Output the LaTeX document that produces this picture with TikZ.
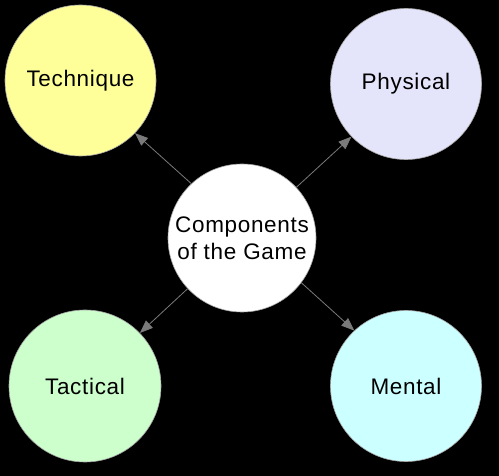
\documentclass[tikz,border=0pt]{standalone}
\usepackage{fontspec}
\setmainfont{Liberation Sans}[LetterSpace=3]
\usetikzlibrary{arrows.meta}
\definecolor{techc}{HTML}{FFFF99}
\definecolor{physc}{HTML}{E4E4FA}
\definecolor{tactc}{HTML}{CCFFCC}
\definecolor{mentc}{HTML}{CCFFFF}
\definecolor{edgec}{HTML}{7A7A7A}
\tikzset{
  bubble/.style={circle, draw=gray!70, line width=0.6pt, minimum size=151pt, inner sep=0pt,
    font=\fontsize{22.5}{27}\selectfont, text=black, align=center},
  link/.style={draw=edgec, line width=0.8pt, -{Triangle[length=13pt,width=10pt]}, edgec}
}
\begin{document}
\begin{tikzpicture}[x=1pt,y=-1pt]
\fill[black] (0,0) rectangle (499,476);
\useasboundingbox (0,0) rectangle (499,476);
\node[bubble, fill=white, minimum size=148pt] (c) at (242,238) {Components\\of the Game};
\node[bubble, fill=techc] (t) at (80.5,80.5) {Technique};
\node[bubble, fill=physc] (p) at (406,84) {Physical};
\node[bubble, fill=tactc, minimum size=152pt] (a) at (85,386) {Tactical};
\node[bubble, fill=mentc] (m) at (406,386) {Mental};
\draw[link] (c.133.4) -- (t.-44.5);
\draw[link] (c.43) -- (p.224.8);
\draw[link] (c.223) -- (a.44);
\draw[link] (c.-37) -- (m.133);
\end{tikzpicture}
\end{document}
